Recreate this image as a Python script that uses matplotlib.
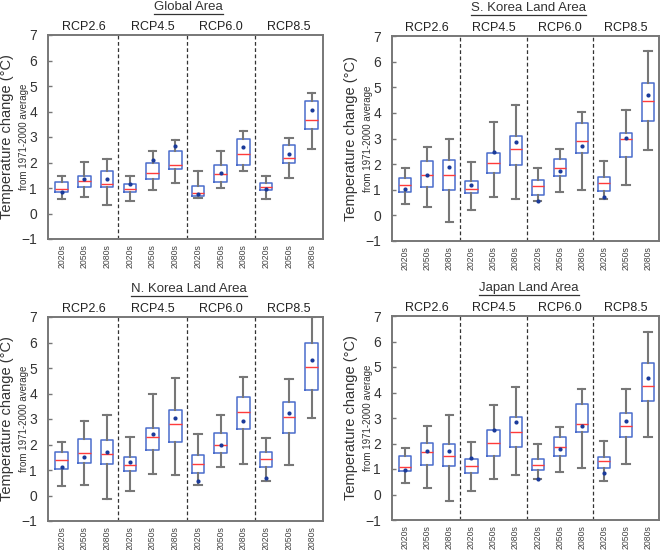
import matplotlib
matplotlib.use("Agg")
import matplotlib.pyplot as plt
from matplotlib.lines import Line2D

plt.rcParams['font.family'] = ['Liberation Sans', 'DejaVu Sans']

scenarios = ["RCP2.6", "RCP4.5", "RCP6.0", "RCP8.5"]
periods = ["2020s", "2050s", "2080s"]
titles = ["Global Area", "S. Korea Land Area", "N. Korea Land Area", "Japan Land Area"]

# per panel, 12 boxes (scenario x period): whisker low, q1, median, q3, whisker high, mean
global_low = [0.57, 0.65, 0.33, 0.48, 0.93, 1.20, 0.60, 1.00, 1.65, 0.58, 1.38, 2.53]
global_q1 = [0.84, 1.05, 1.05, 0.83, 1.37, 1.75, 0.68, 1.23, 1.90, 0.93, 2.00, 3.30]
global_med = [0.97, 1.27, 1.15, 0.95, 1.58, 1.92, 0.82, 1.55, 2.35, 1.05, 2.18, 3.65]
global_q3 = [1.22, 1.47, 1.65, 1.15, 1.98, 2.45, 1.08, 1.90, 2.93, 1.20, 2.70, 4.40]
global_high = [1.46, 2.02, 2.13, 1.48, 2.45, 2.90, 1.67, 2.45, 3.25, 1.47, 2.98, 4.73]
global_mean = [0.84, 1.35, 1.37, 1.17, 2.08, 2.65, 0.78, 1.58, 2.60, 0.97, 2.35, 4.07]

skorea_low = [0.43, 0.32, -0.27, 0.22, 0.70, 0.65, 0.55, 0.93, 1.00, 0.62, 1.17, 2.57]
skorea_q1 = [0.93, 1.10, 1.00, 0.87, 1.67, 1.95, 0.80, 1.55, 2.45, 0.97, 2.27, 3.67]
skorea_med = [1.17, 1.57, 1.57, 1.03, 2.03, 2.60, 1.13, 1.83, 2.92, 1.27, 3.00, 4.45]
skorea_q3 = [1.45, 2.12, 2.15, 1.33, 2.45, 3.08, 1.37, 2.20, 3.60, 1.50, 3.20, 5.15]
skorea_high = [1.83, 2.68, 3.00, 2.10, 3.63, 4.30, 1.83, 2.60, 4.02, 2.12, 4.12, 6.40]
skorea_mean = [1.03, 1.57, 1.88, 1.20, 2.47, 2.85, 0.55, 1.75, 2.70, 0.73, 3.02, 4.70]

nkorea_low = [0.38, 0.40, -0.15, 0.18, 0.85, 0.80, 0.43, 1.12, 1.25, 0.57, 1.20, 3.03]
nkorea_q1 = [1.05, 1.28, 1.25, 0.97, 1.77, 2.10, 0.87, 1.67, 2.62, 1.12, 2.45, 4.13]
nkorea_med = [1.38, 1.65, 1.62, 1.20, 2.30, 2.82, 1.23, 1.97, 3.28, 1.43, 3.08, 5.03]
nkorea_q3 = [1.72, 2.20, 2.17, 1.50, 2.65, 3.35, 1.60, 2.47, 3.87, 1.70, 3.67, 6.00]
nkorea_high = [2.10, 2.92, 3.15, 2.30, 4.00, 4.62, 2.42, 3.15, 4.63, 2.25, 4.58, 7.00]
nkorea_mean = [1.12, 1.52, 1.70, 1.32, 2.43, 3.05, 0.58, 2.00, 2.93, 0.70, 3.23, 5.33]

japan_low = [0.47, 0.25, -0.25, 0.12, 0.60, 0.78, 0.60, 0.90, 1.02, 0.53, 1.18, 2.25]
japan_q1 = [0.93, 1.15, 1.13, 0.83, 1.52, 1.88, 0.95, 1.50, 2.45, 1.03, 2.25, 3.65]
japan_med = [1.07, 1.65, 1.50, 1.12, 2.03, 2.47, 1.17, 1.85, 2.78, 1.30, 2.70, 4.27]
japan_q3 = [1.50, 2.03, 2.00, 1.40, 2.52, 3.05, 1.40, 2.27, 3.53, 1.47, 3.20, 5.17]
japan_high = [1.83, 2.70, 3.10, 2.05, 3.52, 4.20, 1.97, 2.63, 4.15, 2.10, 4.13, 6.37]
japan_mean = [0.98, 1.70, 1.70, 1.42, 2.52, 2.83, 0.60, 1.80, 2.68, 0.85, 2.90, 4.58]

panels = [
    (global_low, global_q1, global_med, global_q3, global_high, global_mean),
    (skorea_low, skorea_q1, skorea_med, skorea_q3, skorea_high, skorea_mean),
    (nkorea_low, nkorea_q1, nkorea_med, nkorea_q3, nkorea_high, nkorea_mean),
    (japan_low, japan_q1, japan_med, japan_q3, japan_high, japan_mean),
]

W, H = 671, 550
fig = plt.figure(figsize=(W / 100, H / 100), dpi=100)

# axes boxes in pixels: left, top, right, bottom
boxes_px = [(48, 35, 323, 239), (392, 36, 659, 241), (48, 317, 323, 521), (392, 316, 659, 520)]

box_col = "#4a6ccc"
whisk_col = "#777777"
frame_col = "#777777"
text_col = "#333333"

titles_txt = []
for (l, t, r, b), title, data in zip(boxes_px, titles, panels):
    ax = fig.add_axes([l / W, 1 - b / H, (r - l) / W, (b - t) / H])
    low, q1, med, q3, high, mean = data
    stats = []
    for i in range(len(low)):
        stats.append(dict(whislo=low[i], q1=q1[i], med=med[i], q3=q3[i],
                          whishi=high[i], mean=mean[i], fliers=[]))
    pos = list(range(1, len(stats) + 1))
    ax.bxp(stats, positions=pos, widths=0.55, showmeans=True, showfliers=False,
           boxprops=dict(color=box_col, linewidth=1.1),
           medianprops=dict(color="#ff3b3b", linewidth=1.0),
           whiskerprops=dict(color=whisk_col, linewidth=1.5),
           capprops=dict(color=whisk_col, linewidth=1.5),
           capwidths=0.33,
           meanprops=dict(marker="o", markersize=3.0, markerfacecolor="#1a3a9a",
                          markeredgewidth=0))
    for s in [3.5, 6.5, 9.5]:
        ax.axvline(s, color="#333333", linestyle=(0, (3, 2)), linewidth=0.9)
    ax.set_xlim(0.4, 12.5)
    ax.set_ylim(-1, 7)
    ax.set_yticks(range(-1, 8))
    ax.set_xticks(pos)
    ax.set_xticklabels(periods * 4, rotation=90, fontsize=6.3, color="#444444")
    ax.tick_params(axis="y", labelsize=10, direction="in", length=3, width=1,
                   color=frame_col, pad=8, labelcolor=text_col)
    ax.tick_params(axis="x", length=0, pad=4)
    for sp in ax.spines.values():
        sp.set_color(frame_col)
        sp.set_linewidth(1.4)
    for k, sc in enumerate(scenarios):
        ax.text(2 + 3 * k, 7.08, sc, ha="center", va="bottom", fontsize=9,
                color="#222222")
    # title
    cx = (l + r) / 2 / W + 0.005
    ty = 1 - (t - 28) / H
    titles_txt.append(fig.text(cx, ty, title, ha="center", va="center",
                               fontsize=9.5, color=text_col))
    # y labels
    yc = 1 - (t + b) / 2 / H
    fig.text((l - 41) / W, yc, "Temperature change (\u00b0C)",
             rotation=90, ha="center", va="center", fontsize=10.5, color=text_col)
    fig.text((l - 24) / W, yc, "from 1971-2000 average",
             rotation=90, ha="center", va="center", fontsize=7, color=text_col)

# underline titles
fig.canvas.draw()
renderer = fig.canvas.get_renderer()
for txt in titles_txt:
    bb = txt.get_window_extent(renderer)
    y = (bb.y0 - 0.5) / H
    fig.add_artist(Line2D([bb.x0 / W, bb.x1 / W], [y, y], color=text_col,
                          linewidth=0.9, transform=fig.transFigure))

fig.savefig("out.png", dpi=100)
